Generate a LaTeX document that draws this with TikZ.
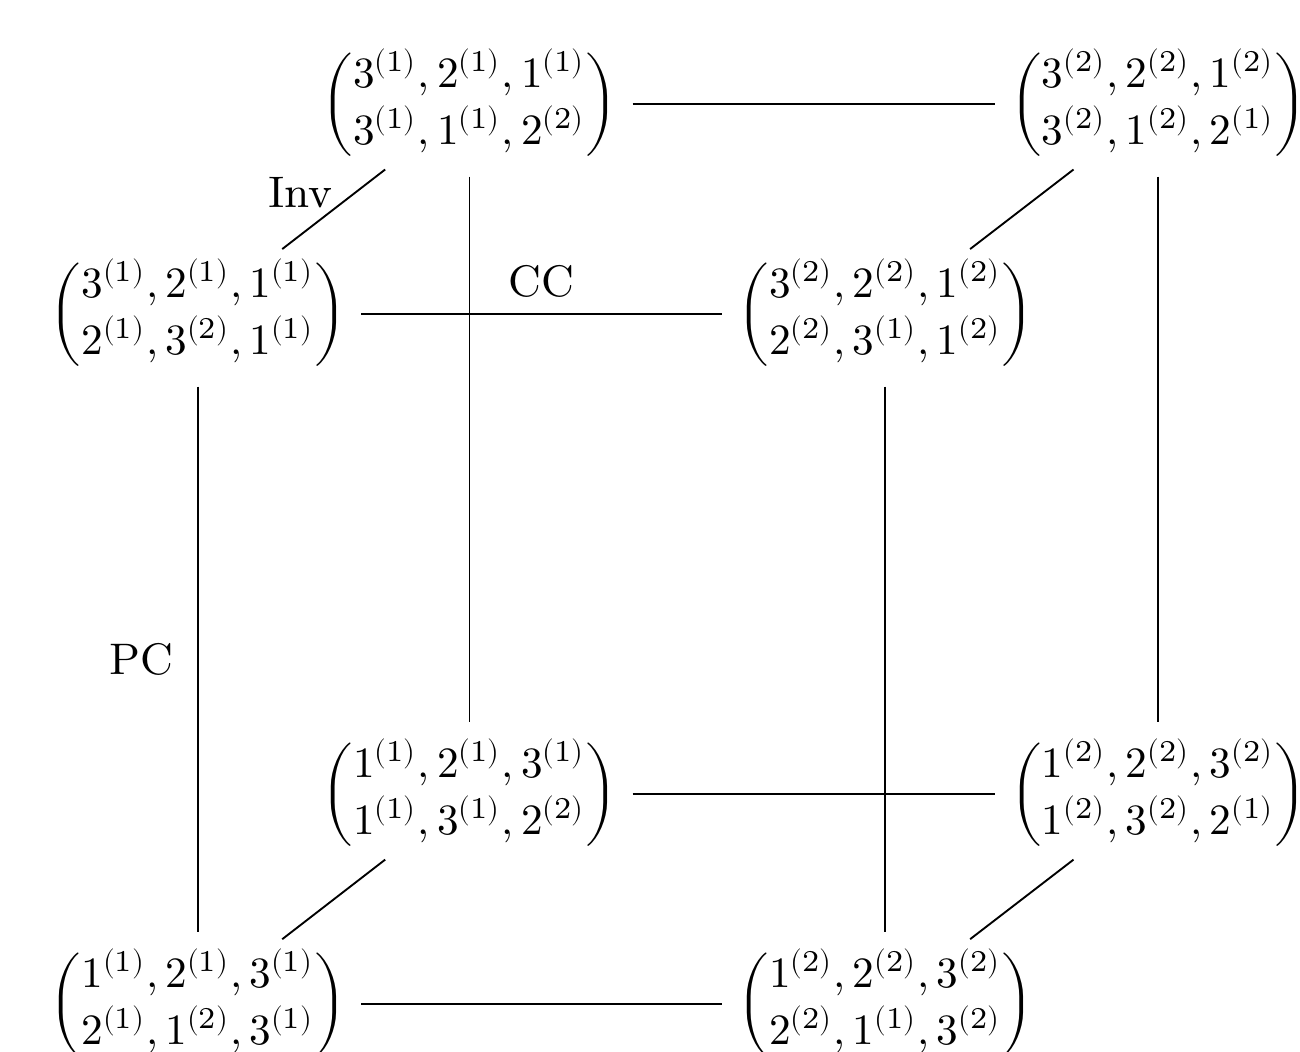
\documentclass[tikz,border=0pt]{standalone}
\usepackage{amsmath}
\usepackage{unicode-math}
\setmathfont{Latin Modern Math}
\usepackage{tikz}

\begin{document}
\begin{tikzpicture}[font=\fontsize{9.4}{12.2}\selectfont,mat/.style={inner sep=3pt,font=\fontsize{9.2}{12.2}\selectfont},diag/.style={shorten <=-2.5pt,shorten >=-2.5pt}]
\useasboundingbox (-1.48,-0.35) rectangle (8.24,7.51);
\node[mat] (fbl) at (0,0) {$\begin{pmatrix}1^{(1)},2^{(1)},3^{(1)}\\2^{(1)},1^{(2)},3^{(1)}\end{pmatrix}$};
\node[mat] (fbr) at (5.14,0) {$\begin{pmatrix}1^{(2)},2^{(2)},3^{(2)}\\2^{(2)},1^{(1)},3^{(2)}\end{pmatrix}$};
\node[mat] (ftl) at (0,5.16) {$\begin{pmatrix}3^{(1)},2^{(1)},1^{(1)}\\2^{(1)},3^{(2)},1^{(1)}\end{pmatrix}$};
\node[mat] (ftr) at (5.14,5.16) {$\begin{pmatrix}3^{(2)},2^{(2)},1^{(2)}\\2^{(2)},3^{(1)},1^{(2)}\end{pmatrix}$};
\node[mat] (bbl) at (2.03,1.57) {$\begin{pmatrix}1^{(1)},2^{(1)},3^{(1)}\\1^{(1)},3^{(1)},2^{(2)}\end{pmatrix}$};
\node[mat] (bbr) at (7.18,1.57) {$\begin{pmatrix}1^{(2)},2^{(2)},3^{(2)}\\1^{(2)},3^{(2)},2^{(1)}\end{pmatrix}$};
\node[mat] (btl) at (2.03,6.73) {$\begin{pmatrix}3^{(1)},2^{(1)},1^{(1)}\\3^{(1)},1^{(1)},2^{(2)}\end{pmatrix}$};
\node[mat] (btr) at (7.18,6.73) {$\begin{pmatrix}3^{(2)},2^{(2)},1^{(2)}\\3^{(2)},1^{(2)},2^{(1)}\end{pmatrix}$};
\draw (btl) -- (btr);
\draw (ftl) -- node[above] {CC} (ftr);
\draw (bbl) -- (bbr);
\draw (fbl) -- (fbr);
\draw[diag] (btl) -- node[anchor=south east,inner sep=0pt] {Inv} (ftl);
\draw[diag] (btr) -- (ftr);
\draw[diag] (bbl) -- (fbl);
\draw[diag] (bbr) -- (fbr);
\draw (ftl) -- node[left,inner sep=5pt] {PC} (fbl);
\draw (btl) -- (bbl);
\draw (btr) -- (bbr);
\draw (ftr) -- (fbr);
\end{tikzpicture}
\end{document}
